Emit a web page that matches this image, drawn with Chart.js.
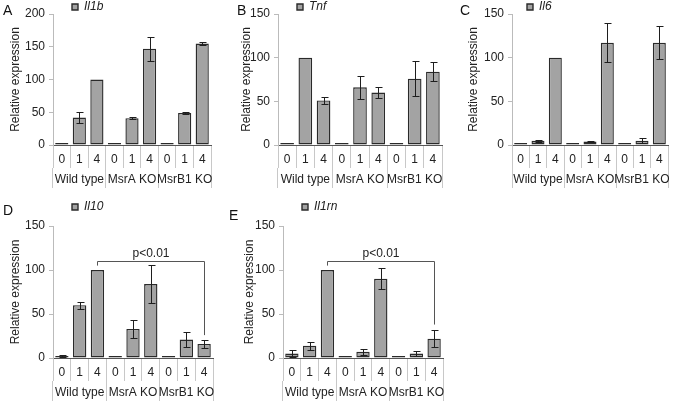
<!DOCTYPE html>
<html>
<head>
<meta charset="utf-8">
<script src="https://cdn.jsdelivr.net/npm/chart.js@4/dist/chart.umd.min.js"></script>
<style>
  html, body { margin: 0; padding: 0; background: #fff; }
  #wrap { position: relative; width: 675px; height: 402px; overflow: hidden; background: #fff; }
  canvas { position: absolute; }
  .letter { position: absolute; font-family: 'Liberation Sans', Arial, sans-serif; font-size: 14px; line-height: 14px; color: #111; }
</style>
</head>
<body>
<div id="wrap">
  <canvas id="cA" width="225" height="200" style="left:0px;top:0px"></canvas>
  <canvas id="cB" width="225" height="200" style="left:225px;top:0px"></canvas>
  <canvas id="cC" width="225" height="200" style="left:450px;top:0px"></canvas>
  <canvas id="cD" width="225" height="202" style="left:0px;top:200px"></canvas>
  <canvas id="cE" width="225" height="202" style="left:225px;top:200px"></canvas>
  <div class="letter" style="left:3px;top:3px">A</div>
  <div class="letter" style="left:237px;top:3px">B</div>
  <div class="letter" style="left:460px;top:3px">C</div>
  <div class="letter" style="left:3px;top:203px">D</div>
  <div class="letter" style="left:229px;top:208px">E</div>
</div>
<script>
// ---------- data ----------
const categories = ['0', '1', '4', '0', '1', '4', '0', '1', '4'];
const groups = ['Wild type', 'MsrA KO', 'MsrB1 KO'];
const yTitle = 'Relative expression';
const pLabel = 'p<0.01';

const il1bValues = [0.5, 42, 100, 0.5, 41, 147, 0.5, 49, 155];
const il1bErrors = [0, 8, 0, 0, 2, 18, 0, 1, 3];

const tnfValues = [0.5, 100, 51, 0.5, 66, 60, 0.5, 76, 84];
const tnfErrors = [0, 0, 3.5, 0, 13, 6, 0, 20, 11];

const il6Values = [0.5, 5, 100, 0.5, 4, 117, 0.5, 5, 117];
const il6Errors = [0, 1, 0, 0, 1, 22.5, 0, 3, 19];

const il10Values = [2, 60, 100, 0.5, 33, 84, 1, 21, 16];
const il10Errors = [1, 4, 0, 0, 10, 22, 0, 9, 4.5];

const il1rnValues = [5, 14, 100, 1.5, 7, 90, 0.5, 5, 22];
const il1rnErrors = [4, 4.5, 0, 0, 3.5, 12, 0, 2.5, 9.5];

const yMaxA = 200, yMaxOther = 150, yStep = 50;

// ---------- plugins ----------
Chart.defaults.font.family = "'Liberation Sans', Arial, sans-serif";
Chart.defaults.font.size = 12;
Chart.defaults.color = '#222';

const errorBars = {
  id: 'errorBars',
  afterDatasetsDraw(chart) {
    const ctx = chart.ctx, y = chart.scales.y;
    chart.data.datasets.forEach((ds, di) => {
      const meta = chart.getDatasetMeta(di);
      meta.data.forEach((bar, i) => {
        const e = ds.errors ? ds.errors[i] : 0;
        if (!e) return;
        const v = ds.data[i];
        const x = Math.round(bar.x) + 0.5;
        const yt = Math.round(y.getPixelForValue(v + e)) + 0.5;
        const yb = Math.round(y.getPixelForValue(Math.max(v - e, 0))) + 0.5;
        ctx.save();
        ctx.strokeStyle = '#1e1e1e';
        ctx.lineWidth = 1;
        ctx.beginPath();
        ctx.moveTo(x, yt); ctx.lineTo(x, yb);
        ctx.moveTo(x - 3, yt); ctx.lineTo(x + 4, yt);
        ctx.moveTo(x - 3, yb); ctx.lineTo(x + 4, yb);
        ctx.stroke();
        ctx.restore();
      });
    });
  }
};

const bracketPlugin = {
  id: 'bracket',
  afterDatasetsDraw(chart, args, o) {
    if (!o || o.from === undefined || o.from === null) return;
    const ctx = chart.ctx, y = chart.scales.y;
    const meta = chart.getDatasetMeta(0);
    const x1 = Math.round(meta.data[o.from].x) + 0.5;
    const x2 = Math.round(meta.data[o.to].x) + 0.5;
    const yl = y.getPixelForValue(o.leftFoot);
    const yt = Math.round(y.getPixelForValue(o.top)) + 0.5;
    const yr = y.getPixelForValue(o.rightFoot);
    ctx.save();
    ctx.strokeStyle = '#555';
    ctx.lineWidth = 1;
    ctx.beginPath();
    ctx.moveTo(x1, yl); ctx.lineTo(x1, yt); ctx.lineTo(x2, yt); ctx.lineTo(x2, yr);
    ctx.stroke();
    ctx.fillStyle = '#222';
    ctx.font = "12px 'Liberation Sans', Arial, sans-serif";
    ctx.textAlign = 'center';
    ctx.textBaseline = 'middle';
    ctx.fillText(o.label, (x1 + x2) / 2, yt - 8);
    ctx.restore();
  }
};

const legendShift = {
  id: 'legendShift',
  afterLayout(chart, args, o) {
    const l = chart.legend;
    if (l && o && o.dx) { l.left += o.dx; l.right += o.dx; }
  }
};

// ---------- panels ----------
function makePanel(id, p) {
  return new Chart(document.getElementById(id), {
    type: 'bar',
    data: {
      labels: categories,
      datasets: [{
        label: p.gene,
        data: p.values,
        errors: p.errors,
        backgroundColor: '#a3a3a3',
        borderColor: '#2a2a2a',
        borderWidth: 1.4,
        borderSkipped: false,
        inflateAmount: 0,
        barPercentage: 0.75,
        categoryPercentage: 1,
        minBarLength: 2
      }]
    },
    options: {
      responsive: false,
      animation: false,
      events: [],
      layout: { padding: { left: 0, top: p.top, right: p.right, bottom: 0 } },
      plugins: {
        legend: {
          position: 'chartArea',
          align: 'start',
          labels: { boxWidth: 6, boxHeight: 6, padding: 1, color: '#222', font: { style: 'italic', size: 12 } }
        },
        tooltip: { enabled: false },
        legendShift: { dx: p.legendDx },
        bracket: p.bracket || false
      },
      scales: {
        x: {
          type: 'category',
          position: 'bottom',
          offset: true,
          grid: { offset: true, drawOnChartArea: false, drawTicks: true, tickLength: 23, color: '#c8c8c8', lineWidth: 1 },
          border: { display: true, color: '#555', width: 1 },
          ticks: { padding: -16, color: '#222', font: { size: 12 }, autoSkip: false, maxRotation: 0, minRotation: 0 },
          afterFit(s) { s.height = 23; }
        },
        x2: {
          type: 'category',
          labels: groups,
          position: 'bottom',
          offset: true,
          grid: { offset: true, drawOnChartArea: false, drawTicks: true, tickLength: 20, color: '#c8c8c8', lineWidth: 1 },
          border: { display: false },
          ticks: { padding: -16, color: '#222', font: { size: 12 }, autoSkip: false, maxRotation: 0, minRotation: 0 },
          afterFit(s) { s.height = p.x2h; }
        },
        y: {
          min: 0,
          max: p.max,
          ticks: { stepSize: yStep, padding: 4, color: '#222', font: { size: 12 } },
          grid: { drawOnChartArea: false, drawTicks: true, tickLength: 4, color: '#bbb' },
          border: { display: true, color: '#bbb', width: 1 },
          title: { display: true, text: yTitle, color: '#222', font: { size: 12 }, padding: { top: p.titlePad, bottom: 0 } },
          afterFit(s) { s.width = p.yw; }
        }
      }
    },
    plugins: [errorBars, bracketPlugin, legendShift]
  });
}

makePanel('cA', { gene: 'Il1b', values: il1bValues, errors: il1bErrors, max: yMaxA, yw: 53, right: 14, top: 14, x2h: 32, titlePad: 8, legendDx: 18 });
makePanel('cB', { gene: 'Tnf', values: tnfValues, errors: tnfErrors, max: yMaxOther, yw: 53, right: 8, top: 14, x2h: 32, titlePad: 14.5, legendDx: 18 });
makePanel('cC', { gene: 'Il6', values: il6Values, errors: il6Errors, max: yMaxOther, yw: 62, right: 7, top: 14, x2h: 32, titlePad: 16, legendDx: 14 });
makePanel('cD', { gene: 'Il10', values: il10Values, errors: il10Errors, max: yMaxOther, yw: 53, right: 12, top: 26, x2h: 21, titlePad: 8, legendDx: 18,
  bracket: { from: 2, to: 8, leftFoot: 105, top: 110, rightFoot: 26, label: pLabel } });
makePanel('cE', { gene: 'Il1rn', values: il1rnValues, errors: il1rnErrors, max: yMaxOther, yw: 58, right: 7, top: 26, x2h: 21, titlePad: 17.5, legendDx: 18,
  bracket: { from: 2, to: 8, leftFoot: 105, top: 110, rightFoot: 38, label: pLabel } });
</script>
</body>
</html>
